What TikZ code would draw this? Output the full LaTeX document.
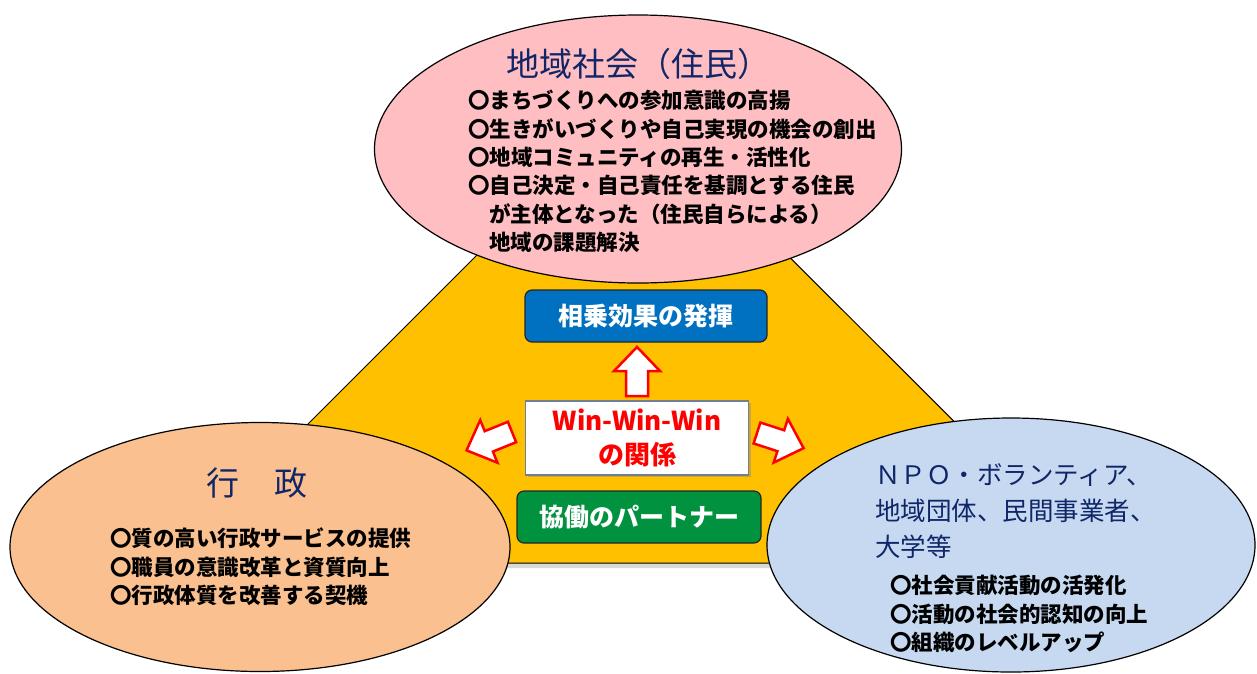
\documentclass[tikz,border=0pt]{standalone}
\usepackage{fontspec}
\setmainfont{Noto Sans CJK JP}
\usetikzlibrary{positioning, shapes.geometric, shadows}

\definecolor{pinkfill}{RGB}{255,190,194}
\definecolor{orangefill}{RGB}{250,192,143}
\definecolor{bluefill}{RGB}{198,217,240}
\definecolor{gold}{RGB}{255,192,0}
\definecolor{boxblue}{RGB}{0,112,192}
\definecolor{boxgreen}{RGB}{0,146,63}
\definecolor{navy}{RGB}{16,38,104}
\definecolor{winframe}{RGB}{112,126,150}

\newcommand{\itemfont}{\fontsize{21.5}{28.4}\selectfont\bfseries}

\tikzset{
  fatarrow/.pic={
    \draw[draw=red, line width=2.5pt, fill=white, line join=miter]
      (0,-11) -- (25,-11) -- (25,-23) -- (49,0) -- (25,23) -- (25,11) -- (0,11) -- cycle;
  }
}

\begin{document}
\begin{tikzpicture}[x=1pt, y=-1pt,
    bubble/.style={ellipse, draw=black, line width=1.2pt, inner sep=0pt},
    heading/.style={font=\fontsize{33}{38}\selectfont, text=navy, inner sep=0pt},
    itemlist/.style={font=\itemfont, align=left, inner sep=0pt, anchor=north west},
    tagbox/.style={rounded corners=7pt, draw=black!85, line width=1.2pt, text=white,
        font=\fontsize{25}{30}\selectfont\bfseries, inner sep=0pt}]
    \useasboundingbox (0,0) rectangle (1257,673);

    % yellow base behind the three partners
    \draw[fill=gold, line width=1pt, drop shadow={shadow xshift=0pt, shadow yshift=-5pt, opacity=0.3}]
        (632,100) -- (1096,563) -- (169,563) -- cycle;

    % partners
    \node[bubble, fill=pinkfill, minimum width=527pt, minimum height=268pt] (community) at (638,149) {};
    \node[bubble, fill=orangefill, minimum width=500pt, minimum height=249pt] (admin) at (260,547) {};
    \node[bubble, fill=bluefill, minimum width=488pt, minimum height=254pt] (npo) at (1011,545) {};

    \node[heading] (communityTitle) at (638,64) {地域社会（住民）};
    \node[itemlist] (communityItems) at (468,90) {〇まちづくりへの参加意識の高揚\\
        〇生きがいづくりや自己実現の機会の創出\\
        〇地域コミュニティの再生・活性化\\
        〇自己決定・自己責任を基調とする住民\\
        \hspace*{21pt}が主体となった（住民自らによる）\\
        \hspace*{21pt}地域の課題解決};

    \node[heading] (adminTitle) at (257,483) {行\hspace{36pt}政};
    \node[itemlist] (adminItems) at (110,528) {〇質の高い行政サービスの提供\\
        〇職員の意識改革と資質向上\\
        〇行政体質を改善する契機};

    \node[itemlist, font=\fontsize{25.5}{36}\selectfont, text=navy] (npoTitle) at (875,463)
        {ＮＰＯ・ボランティア、\\地域団体、民間事業者、\\大学等};
    \node[itemlist] (npoItems) at (890,575) {〇社会貢献活動の活発化\\
        〇活動の社会的認知の向上\\
        〇組織のレベルアップ};

    % centre boxes
    \node[tagbox, fill=boxblue, minimum width=242pt, minimum height=52pt] (synergy) at (646,316) {相乗効果の発揮};
    \node[draw=winframe, line width=1.5pt, fill=white, minimum width=223pt, minimum height=74pt,
        drop shadow={shadow xshift=2pt, shadow yshift=-2pt, opacity=0.4},
        align=center, text=red, font=\fontsize{26}{34}\selectfont\bfseries, inner sep=0pt]
        (winwin) at (637,438) {Win-Win-Win\\の関係};
    \node[tagbox, fill=boxgreen, minimum width=244pt, minimum height=52pt] (partner) at (639,517) {協働のパートナー};

    % arrows out of the relationship
    \pic[rotate=90] at (637,396) {fatarrow};
    \pic[rotate=202] at (512,432) {fatarrow};
    \pic[rotate=-18] at (757,433) {fatarrow};
\end{tikzpicture}
\end{document}
